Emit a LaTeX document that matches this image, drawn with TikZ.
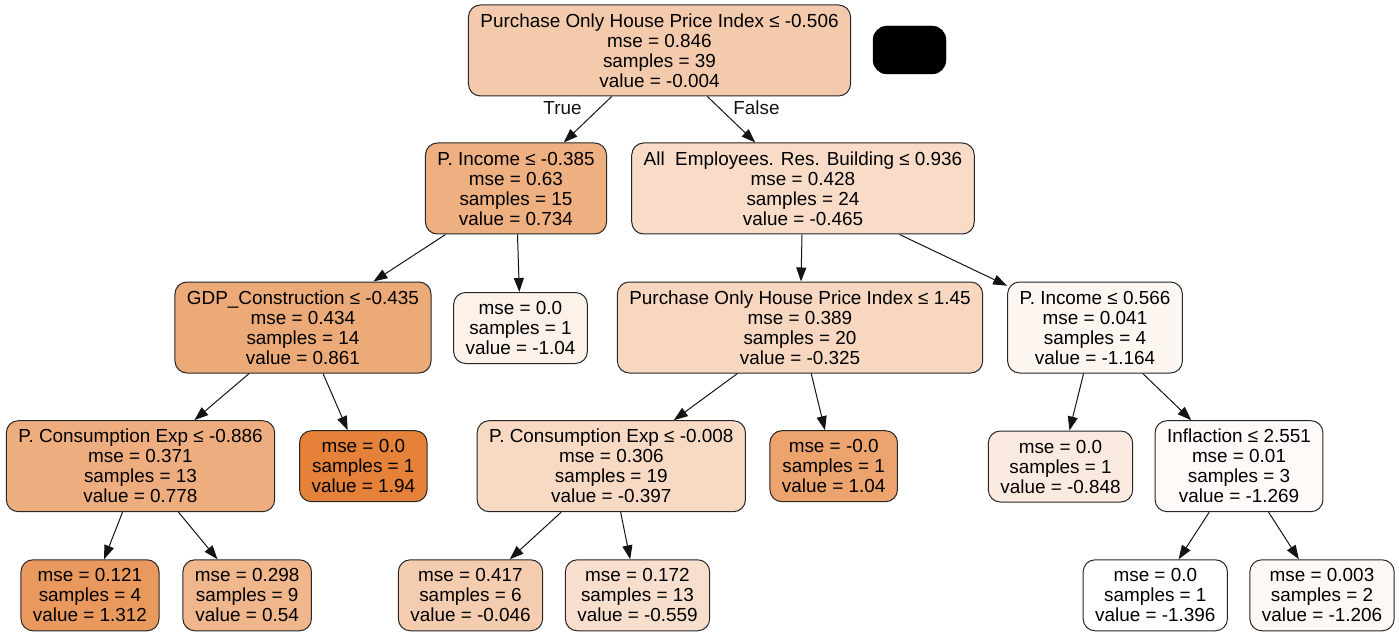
\documentclass[tikz,border=0pt]{standalone}
\usepackage{fontspec}
\setmainfont{Liberation Sans}
\usepackage{tikz}
\usetikzlibrary{arrows.meta,shapes,positioning}
\usepackage{xcolor}
\definecolor{dtorange}{RGB}{229,129,57}
\definecolor{dtedge}{RGB}{20,20,20}
\tikzstyle{arrow} = [line width=1pt,-{Triangle[length=14pt,width=10pt]},color=dtedge]
\tikzstyle{split} = [rectangle, rounded corners=12pt, minimum height=91pt, inner xsep=12pt, inner ysep=0pt, align=center, draw=black!85, line width=1pt, font=\fontsize{18.9}{20}\selectfont]
\tikzstyle{leaf} = [split, minimum height=71pt]
\tikzstyle{edgelabel} = [font=\fontsize{18.9}{20}\selectfont]

\begin{document}
\begin{tikzpicture}[x=1pt, y=-1pt]
\useasboundingbox (0,0) rectangle (1399,636);
% root and legend
\node (root) [split, fill=dtorange!41.7!white] at (659.5,50.5) {Purchase Only House Price Index ≤ -0.506\\mse = 0.846\\samples = 39\\value = -0.004};
\node (legend) [rectangle, rounded corners=14pt, minimum width=73pt, minimum height=48pt, fill=black, draw=black] at (909.5,50) {};

% second level
\node (pinca) [split, fill=dtorange!63.8!white] at (516,188.5) {P. Income ≤ -0.385\\mse = 0.63\\samples = 15\\value = 0.734};
\node (allemp) [split, fill=dtorange!27.9!white] at (803,188.5) {All\ \ Employees. Res. Building ≤ 0.936\\mse = 0.428\\samples = 24\\value = -0.465};

% third level
\node (gdp) [split, fill=dtorange!67.7!white] at (303,327.5) {GDP\_Construction ≤ -0.435\\mse = 0.434\\samples = 14\\value = 0.861};
\node (leafa) [leaf, fill=dtorange!10.7!white] at (520.5,328) {mse = 0.0\\samples = 1\\value = -1.04};
\node (pohpi) [split, fill=dtorange!32.1!white] at (800,327.5) {Purchase Only House Price Index ≤ 1.45\\mse = 0.389\\samples = 20\\value = -0.325};
\node (pincb) [split, fill=dtorange!7!white] at (1095,327.5) {P. Income ≤ 0.566\\mse = 0.041\\samples = 4\\value = -1.164};

% fourth level
\node (pcea) [split, fill=dtorange!65.2!white] at (140.5,466.2) {P. Consumption Exp ≤ -0.886\\mse = 0.371\\samples = 13\\value = 0.778};
\node (leafb) [leaf, fill=dtorange] at (363.3,466.2) {mse = 0.0\\samples = 1\\value = 1.94};
\node (pceb) [split, fill=dtorange!29.9!white] at (611.3,466.2) {P. Consumption Exp ≤ -0.008\\mse = 0.306\\samples = 19\\value = -0.397};
\node (leafc) [leaf, fill=dtorange!73!white] at (833.7,466.2) {mse = -0.0\\samples = 1\\value = 1.04};
\node (leafd) [leaf, fill=dtorange!16.4!white] at (1060.5,466.5) {mse = 0.0\\samples = 1\\value = -0.848};
\node (infl) [split, fill=dtorange!3.8!white] at (1239,466.2) {Inflaction ≤ 2.551\\mse = 0.01\\samples = 3\\value = -1.269};

% fifth level
\node (leafe) [leaf, fill=dtorange!81.2!white] at (90,595.3) {mse = 0.121\\samples = 4\\value = 1.312};
\node (leaff) [leaf, fill=dtorange!58!white] at (247.2,595.3) {mse = 0.298\\samples = 9\\value = 0.54};
\node (leafg) [leaf, fill=dtorange!40.5!white] at (470.5,595.3) {mse = 0.417\\samples = 6\\value = -0.046};
\node (leafh) [leaf, fill=dtorange!25.1!white] at (637.5,595.3) {mse = 0.172\\samples = 13\\value = -0.559};
\node (leafi) [leaf, fill=white] at (1155.3,595.3) {mse = 0.0\\samples = 1\\value = -1.396};
\node (leafj) [leaf, fill=dtorange!5.7!white] at (1322,595.3) {mse = 0.003\\samples = 2\\value = -1.206};

% edges
\draw[arrow] (root) -- node[edgelabel, pos=.255, left=14pt] {True} (pinca);
\draw[arrow] (root) -- node[edgelabel, pos=.255, right=10pt] {False} (allemp);
\draw[arrow] (pinca) -- (gdp);
\draw[arrow] (pinca) -- (leafa);
\draw[arrow] (allemp) -- (pohpi);
\draw[arrow] (allemp) -- (pincb);
\draw[arrow] (gdp) -- (pcea);
\draw[arrow] (gdp) -- (leafb);
\draw[arrow] (pohpi) -- (pceb);
\draw[arrow] (pohpi) -- (leafc);
\draw[arrow] (pincb) -- (leafd);
\draw[arrow] (pincb) -- (infl);
\draw[arrow] (pcea) -- (leafe);
\draw[arrow] (pcea) -- (leaff);
\draw[arrow] (pceb) -- (leafg);
\draw[arrow] (pceb) -- (leafh);
\draw[arrow] (infl) -- (leafi);
\draw[arrow] (infl) -- (leafj);
\end{tikzpicture}
\end{document}
